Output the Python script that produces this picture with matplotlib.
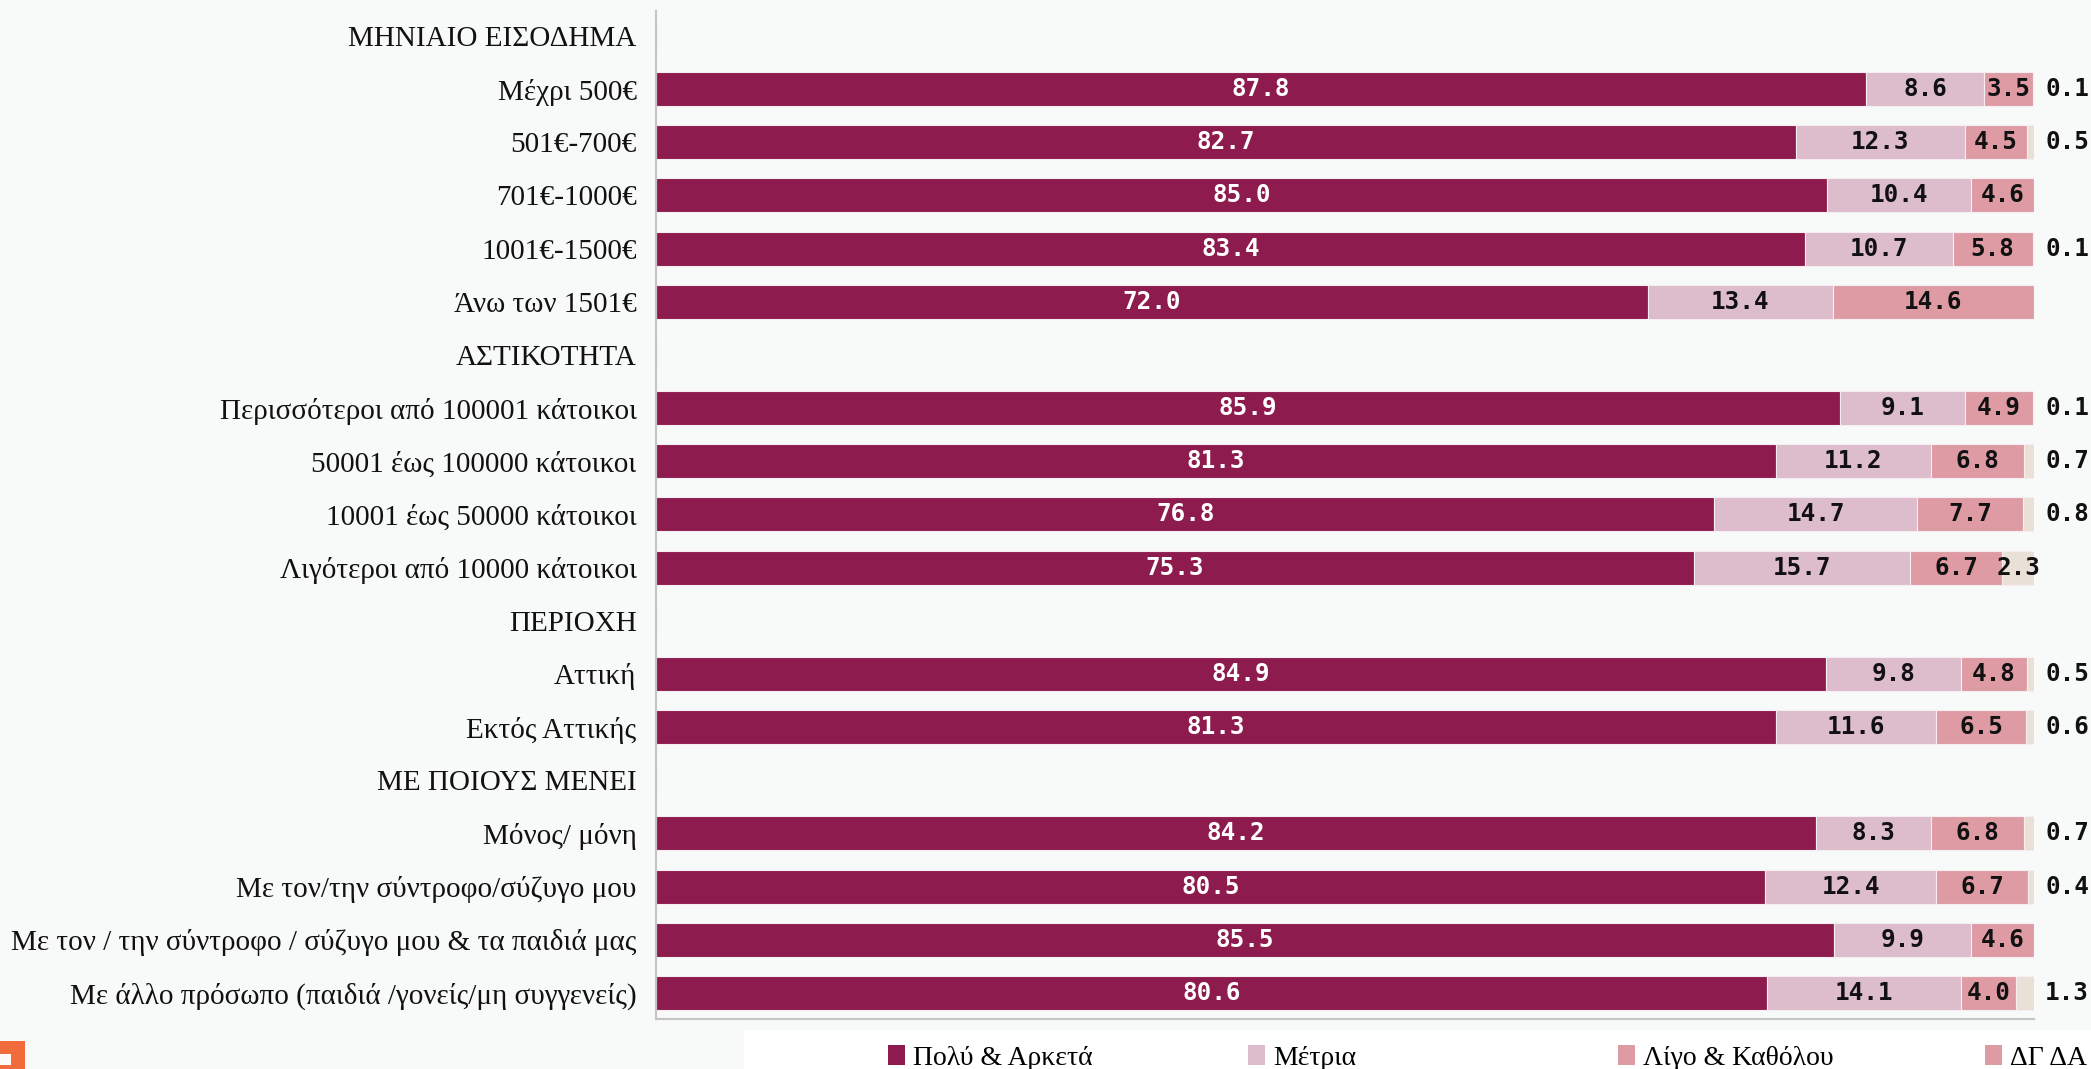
import matplotlib
matplotlib.use("Agg")
import matplotlib.pyplot as plt
from matplotlib.patches import Rectangle, Patch
import numpy as np

# ---------------- data ----------------
categories = [
    "ΜΗΝΙΑΙΟ ΕΙΣΟΔΗΜΑ", "Μέχρι 500€", "501€-700€", "701€-1000€", "1001€-1500€", "Άνω των 1501€",
    "ΑΣΤΙΚΟΤΗΤΑ", "Περισσότεροι από 100001 κάτοικοι", "50001 έως 100000 κάτοικοι",
    "10001 έως 50000 κάτοικοι", "Λιγότεροι από 10000 κάτοικοι",
    "ΠΕΡΙΟΧΗ", "Αττική", "Εκτός Αττικής",
    "ΜΕ ΠΟΙΟΥΣ ΜΕΝΕΙ", "Μόνος/ μόνη", "Με τον/την σύντροφο/σύζυγο μου",
    "Με τον / την σύντροφο / σύζυγο μου & τα παιδιά μας",
    "Με άλλο πρόσωπο (παιδιά /γονείς/μη συγγενείς)",
]
series_names = ["Πολύ & Αρκετά", "Μέτρια", "Λίγο & Καθόλου", "ΔΓ ΔΑ"]
N = np.nan
poly_arketa = [N, 87.8, 82.7, 85.0, 83.4, 72.0, N, 85.9, 81.3, 76.8, 75.3, N, 84.9, 81.3, N, 84.2, 80.5, 85.5, 80.6]
metria      = [N, 8.6, 12.3, 10.4, 10.7, 13.4, N, 9.1, 11.2, 14.7, 15.7, N, 9.8, 11.6, N, 8.3, 12.4, 9.9, 14.1]
ligo        = [N, 3.5, 4.5, 4.6, 5.8, 14.6, N, 4.9, 6.8, 7.7, 6.7, N, 4.8, 6.5, N, 6.8, 6.7, 4.6, 4.0]
dg_da       = [N, 0.1, 0.5, N, 0.1, N, N, 0.1, 0.7, 0.8, 2.3, N, 0.5, 0.6, N, 0.7, 0.4, N, 1.3]

colors = ["#8E1B4E", "#DDBCCB", "#DE9BA4", "#E9E1D8"]
legend_colors = ["#8E1B4E", "#DDBCCB", "#DE9BA4", "#DE9BA4"]
text_colors = ["white", "#111111", "#111111", "#111111"]

# ---------------- figure ----------------
W, H = 2091, 1069
fig = plt.figure(figsize=(W / 100, H / 100), dpi=100)
bg = "#F8F9F9"
fig.patch.set_facecolor(bg)

left_px, right_px, top_px, bottom_px = 656, 2034, 10.7, 1019
ax = fig.add_axes([left_px / W, 1 - bottom_px / H, (right_px - left_px) / W, (bottom_px - top_px) / H])
ax.set_facecolor(bg)

y = np.arange(len(categories))
data = [np.array(poly_arketa), np.array(metria), np.array(ligo), np.array(dg_da)]
left = np.zeros(len(categories))
lbl_font = dict(fontsize=17.5, family="DejaVu Sans Mono", fontweight="bold", zorder=3)
for s, (vals, col, tcol) in enumerate(zip(data, colors, text_colors)):
    v = np.nan_to_num(vals)
    ax.barh(y, v, left=left, height=0.64, color=col, edgecolor="#F6EEF1", linewidth=0.8, zorder=2)
    for i, val in enumerate(vals):
        if np.isnan(val):
            continue
        if val < 2:
            ax.text(left[i] + val + 0.8, y[i], f"{val:.1f}", ha="left", va="center",
                    color="#111111", **lbl_font)
        else:
            ax.text(left[i] + val / 2, y[i], f"{val:.1f}", ha="center", va="center",
                    color=tcol, **lbl_font)
    left = left + v

ax.set_xlim(0, 100)
ax.set_ylim(18.49, -0.475)
ax.set_yticks(y)
ax.set_yticklabels(categories, family="Liberation Serif", fontsize=21, color="#111111")
ax.tick_params(axis="y", length=0, pad=14)
ax.set_xticks([])
for sp in ["top", "right"]:
    ax.spines[sp].set_visible(False)
for sp in ["left", "bottom"]:
    ax.spines[sp].set_color("#C4C4C4")
    ax.spines[sp].set_linewidth(1.5)

# legend area
fig.patches.append(Rectangle((744 / W, 0), 1 - 744 / W, (H - 1030) / H, transform=fig.transFigure,
                             facecolor="white", edgecolor="none", zorder=0))
leg_x = [874, 1234, 1604, 1971]
for name, col, lx in zip(series_names, legend_colors, leg_x):
    fig.legend(handles=[Patch(facecolor=col, edgecolor="none")], labels=[name],
               loc="center left", bbox_to_anchor=(lx / W, (H - 1058) / H), frameon=False,
               handlelength=0.6, handleheight=0.7, handletextpad=0.3, borderpad=0,
               prop={"family": "Liberation Serif", "size": 20})

# logo fragment bottom-left
fig.patches.append(Rectangle((0, 0), 25 / W, 28 / H, transform=fig.transFigure,
                             facecolor="#F26B3A", edgecolor="none", zorder=1))
fig.patches.append(Rectangle((0, 4 / H), 11 / W, 11 / H, transform=fig.transFigure,
                             facecolor="#FBFBFB", edgecolor="none", zorder=2))

fig.savefig("out.png", dpi=100, facecolor=bg)
